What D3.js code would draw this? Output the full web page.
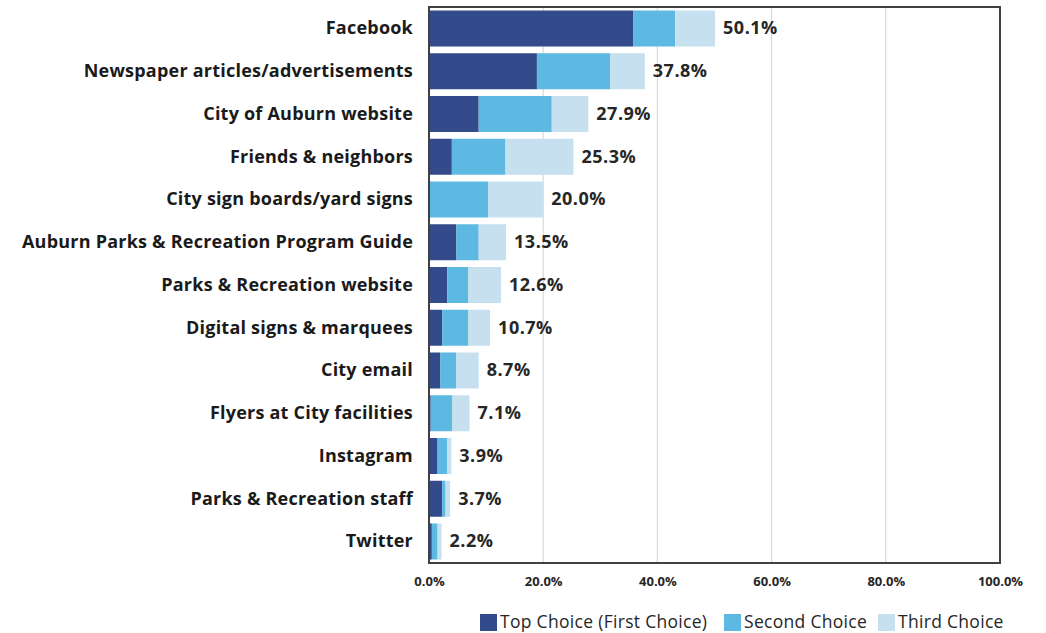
<!DOCTYPE html>
<html>
<head>
<meta charset="utf-8">
<script src="https://cdn.jsdelivr.net/npm/d3@7"></script>
<style>
  body { margin: 0; background: #fff; }
  svg { display: block; font-family: "Open Sans", "Noto Sans", sans-serif; }
</style>
</head>
<body>
<svg id="chart" width="1046" height="633"></svg>
<script>
const categories = [
  "Facebook",
  "Newspaper articles/advertisements",
  "City of Auburn website",
  "Friends & neighbors",
  "City sign boards/yard signs",
  "Auburn Parks & Recreation Program Guide",
  "Parks & Recreation website",
  "Digital signs & marquees",
  "City email",
  "Flyers at City facilities",
  "Instagram",
  "Parks & Recreation staff",
  "Twitter"
];
const firstChoice = [35.8, 18.9, 8.7, 4.0, 0.0, 4.8, 3.2, 2.3, 2.0, 0.3, 1.5, 2.3, 0.5];
const secondChoice = [7.3, 12.8, 12.8, 9.4, 10.4, 3.9, 3.7, 4.6, 2.8, 3.8, 1.7, 0.6, 1.0];
const thirdChoice = [7.0, 6.1, 6.4, 11.9, 9.6, 4.8, 5.7, 3.8, 3.9, 3.0, 0.7, 0.8, 0.7];
const totals = [50.1, 37.8, 27.9, 25.3, 20.0, 13.5, 12.6, 10.7, 8.7, 7.1, 3.9, 3.7, 2.2];
const seriesNames = ["Top Choice (First Choice)", "Second Choice", "Third Choice"];
const xTicks = [0, 20, 40, 60, 80, 100];

const colors = ["#334a8b", "#5db8e2", "#c6e0f0"];
const margin = { top: 7, right: 46, bottom: 70, left: 429 };
const width = 1046;
const height = 633;

const rows = categories.map((name, i) => ({
  name,
  first: firstChoice[i],
  second: secondChoice[i],
  third: thirdChoice[i],
  total: totals[i]
}));

const stack = d3.stack().keys(["first", "second", "third"]);
const layers = stack(rows);

const x = d3.scaleLinear().domain([0, 100]).range([margin.left, width - margin.right]);
const y = d3.scaleBand()
  .domain(categories)
  .range([margin.top, height - margin.bottom])
  .paddingInner(0.158)
  .paddingOuter(0.082);

const svg = d3.select("#chart");

// gridlines
svg.append("g")
  .selectAll("line")
  .data(xTicks.slice(1, -1))
  .join("line")
  .attr("x1", (d) => x(d))
  .attr("x2", (d) => x(d))
  .attr("y1", margin.top)
  .attr("y2", height - margin.bottom)
  .attr("stroke", "#d9d9d9")
  .attr("stroke-width", 1.2);

// stacked bars
svg.append("g")
  .selectAll("g")
  .data(layers)
  .join("g")
  .attr("fill", (d, i) => colors[i])
  .selectAll("rect")
  .data((d) => d)
  .join("rect")
  .attr("x", (d) => x(d[0]))
  .attr("y", (d) => y(d.data.name))
  .attr("width", (d) => Math.max(0, x(d[1]) - x(d[0])))
  .attr("height", y.bandwidth());

// plot frame
svg.append("rect")
  .attr("x", margin.left)
  .attr("y", margin.top)
  .attr("width", width - margin.right - margin.left)
  .attr("height", height - margin.bottom - margin.top)
  .attr("fill", "none")
  .attr("stroke", "#404040")
  .attr("stroke-width", 2);

// category labels
svg.append("g")
  .selectAll("text")
  .data(rows)
  .join("text")
  .attr("x", margin.left - 16)
  .attr("y", (d) => y(d.name) + y.bandwidth() / 2 + 1)
  .attr("text-anchor", "end")
  .attr("dominant-baseline", "middle")
  .attr("font-size", 18)
  .attr("font-weight", 700)
  .attr("letter-spacing", 0.22)
  .attr("fill", "#1a1a1a")
  .text((d) => d.name);

// total labels
svg.append("g")
  .selectAll("text")
  .data(rows)
  .join("text")
  .attr("x", (d) => x(d.total) + 8)
  .attr("y", (d) => y(d.name) + y.bandwidth() / 2 + 1)
  .attr("dominant-baseline", "middle")
  .attr("font-size", 18)
  .attr("font-weight", 700)
  .attr("letter-spacing", 0.5)
  .attr("fill", "#262626")
  .text((d) => d.total.toFixed(1) + "%");

// x axis labels
const axis = svg.append("g")
  .attr("transform", `translate(0,${height - margin.bottom + 11})`)
  .call(d3.axisBottom(x).tickValues(xTicks).tickFormat((d) => d.toFixed(1) + "%").tickSize(0));
axis.select(".domain").remove();
axis.selectAll("text")
  .attr("font-family", "'Open Sans', sans-serif")
  .attr("font-size", 13)
  .attr("font-weight", 700)
  .attr("fill", "#262626");

// legend
const legendItems = [
  { name: seriesNames[0], color: colors[0], x: 480 },
  { name: seriesNames[1], color: colors[1], x: 724 },
  { name: seriesNames[2], color: colors[2], x: 878 }
];
const legend = svg.append("g")
  .selectAll("g")
  .data(legendItems)
  .join("g")
  .attr("transform", (d) => `translate(${d.x},614)`);
legend.append("rect")
  .attr("width", 17)
  .attr("height", 17)
  .attr("fill", (d) => d.color);
legend.append("text")
  .attr("x", 20)
  .attr("y", 9.5)
  .attr("dominant-baseline", "middle")
  .attr("font-size", 17.5)
  .attr("letter-spacing", 0.3)
  .attr("fill", "#262626")
  .text((d) => d.name);
</script>
</body>
</html>
